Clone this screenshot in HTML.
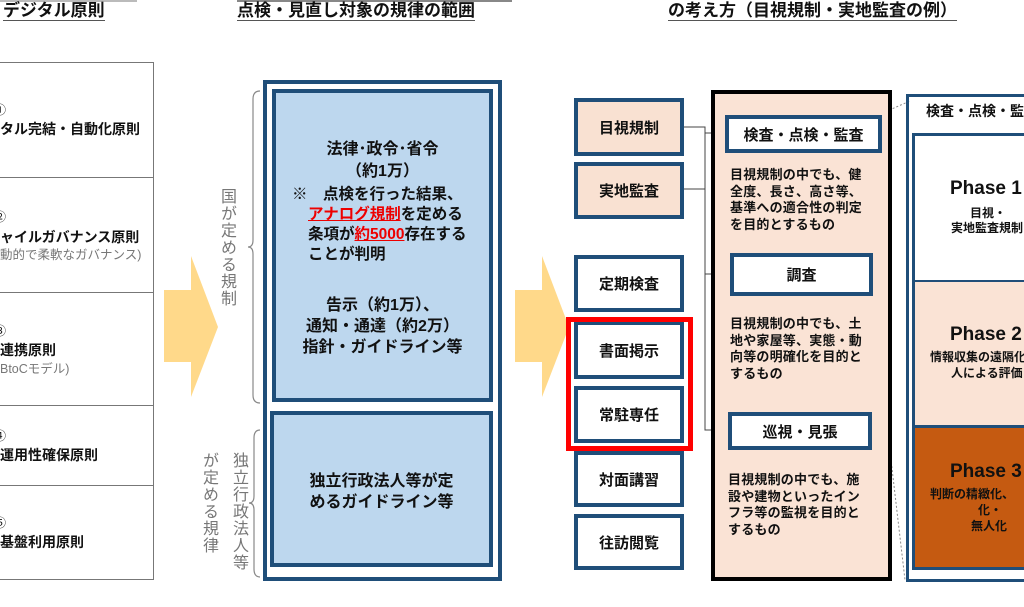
<!DOCTYPE html>
<html><head><meta charset="utf-8"><style>
*{margin:0;padding:0;box-sizing:border-box}
body{width:1024px;height:607px;background:#fff;position:relative;overflow:hidden;font-family:"Liberation Sans","Noto Sans CJK JP",sans-serif;color:#111}
.a{position:absolute}
.t{font-weight:bold;font-size:17px;border-bottom:1.5px solid #555;line-height:19px;white-space:nowrap}
.c{text-align:center;white-space:nowrap}
.bx{position:absolute;border:4px solid #1f4e79;display:flex;align-items:center;justify-content:center;font-weight:bold;font-size:15px;white-space:nowrap}
.p{font-size:13px;line-height:16.5px;font-weight:bold;white-space:nowrap;letter-spacing:0.2px}
.vt{writing-mode:vertical-rl;color:#777;font-size:16px;letter-spacing:1px}
.lt{font-size:14px;font-weight:bold;white-space:nowrap}
</style></head><body>
<div class="a" style="left:0;top:0;width:137px;height:2px;background:#bbb"></div>
<div class="a" style="left:237px;top:0;width:275px;height:2px;background:#888"></div>
<div class="a t" style="left:3px;top:1px">デジタル原則</div>
<div class="a t" style="left:237px;top:1px">点検・見直し対象の規律の範囲</div>
<div class="a t" style="left:668px;top:1px">の考え方（目視規制・実地監査の例）</div>

<!-- left table -->
<div class="a" style="left:-1px;top:62px;width:155px;height:518px;border:1.2px solid #777"></div>
<div class="a" style="left:0;top:177px;width:153px;height:1.2px;background:#777"></div>
<div class="a" style="left:0;top:292px;width:153px;height:1.2px;background:#777"></div>
<div class="a" style="left:0;top:405px;width:153px;height:1.2px;background:#777"></div>
<div class="a" style="left:0;top:485px;width:153px;height:1.2px;background:#777"></div>
<div class="a" style="left:-6px;top:101px;font-size:12px">①</div>
<div class="a lt" style="left:0;top:119px">タル完結・自動化原則</div>
<div class="a" style="left:-6px;top:208px;font-size:12px">②</div>
<div class="a lt" style="left:0;top:227px">ャイルガバナンス原則</div>
<div class="a" style="left:0;top:244px;font-size:12.5px;color:#777;white-space:nowrap">動的で柔軟なガバナンス)</div>
<div class="a" style="left:-6px;top:322px;font-size:12px">③</div>
<div class="a lt" style="left:0;top:340px">連携原則</div>
<div class="a" style="left:0;top:358px;font-size:12.5px;color:#777">BtoCモデル)</div>
<div class="a" style="left:-6px;top:427px;font-size:12px">④</div>
<div class="a lt" style="left:0;top:445px">運用性確保原則</div>
<div class="a" style="left:-6px;top:514px;font-size:12px">⑤</div>
<div class="a lt" style="left:0;top:532px">基盤利用原則</div>

<!-- arrows -->
<svg class="a" style="left:0;top:0" width="1024" height="607">
<polygon points="164,290 191,290 191,256 218,327 191,397 191,362 164,362" fill="#ffd98a"/>
<polygon points="515,290 542,290 542,256 569,327 542,397 542,362 515,362" fill="#ffd98a"/>
<path d="M260,91 Q253,91 253,99 L253,240 Q253,247 248,247 Q253,247 253,254 L253,395 Q253,403 260,403" fill="none" stroke="#888" stroke-width="1.2"/>
<path d="M260,430 Q254,430 254,438 L254,496 Q254,503 249,503 Q254,503 254,510 L254,569 Q254,577 260,577" fill="none" stroke="#888" stroke-width="1.2"/>
<path d="M290,182 Q283,182 283,192 L283,260 Q283,270 293,270 M473,182 Q481,182 481,192 L481,260 Q481,270 471,270" fill="none" stroke="#444" stroke-width="1"/>
<g stroke="#444" stroke-width="1" fill="none">
<path d="M683,127 H705 V430 H728"/><path d="M683,189 H705"/><path d="M705,133 H725"/><path d="M705,274 H730"/>
</g>
<g stroke="#888" stroke-width="1" stroke-dasharray="2,2" fill="none">
<path d="M878,115 L910,101"/><path d="M874,155 L877,340 L905,580"/>
</g>
</svg>
<div class="a vt" style="left:214px;top:188px">国が定める規制</div>
<div class="a vt" style="left:226px;top:452px">独立行政法人等</div>
<div class="a vt" style="left:196px;top:452px">が定める規律</div>

<!-- center outer -->
<div class="a" style="left:263px;top:80px;width:239px;height:501px;border:4px solid #1f4e79"></div>
<div class="a" style="left:272px;top:89px;width:221px;height:313px;border:4px solid #1f4e79;background:#bdd7ee"></div>
<div class="a" style="left:270px;top:411px;width:223px;height:156px;border:4px solid #1f4e79;background:#bdd7ee"></div>
<div class="a c" style="left:272px;width:221px;top:139px;font-size:16px;font-weight:bold;line-height:22px">法律･政令･省令<br>（約1万）</div>
<div class="a" style="left:292px;top:185px;font-size:15.5px;font-weight:bold;line-height:20px;white-space:nowrap">※　点検を行った結果、<br><span style="padding-left:16px"><span style="color:#e00;text-decoration:underline">アナログ規制</span>を定める</span><br><span style="padding-left:16px">条項が<span style="color:#e00;text-decoration:underline">約5000</span>存在する</span><br><span style="padding-left:16px">ことが判明</span></div>
<div class="a c" style="left:272px;width:221px;top:295px;font-size:16px;font-weight:bold;line-height:21px">告示（約1万）、<br>通知・通達（約2万）<br>指針・ガイドライン等</div>
<div class="a c" style="left:270px;width:223px;top:471px;font-size:16px;font-weight:bold;line-height:21px">独立行政法人等が定<br>めるガイドライン等</div>

<!-- left column boxes -->
<div class="bx" style="left:574px;top:98px;width:110px;height:58px;background:#f9e1d2">目視規制</div>
<div class="bx" style="left:574px;top:162px;width:110px;height:57px;background:#f9e1d2">実地監査</div>
<div class="bx" style="left:574px;top:255px;width:110px;height:57px;background:#fff">定期検査</div>
<div class="bx" style="left:574px;top:321px;width:110px;height:58px;background:#fff">書面掲示</div>
<div class="bx" style="left:574px;top:386px;width:110px;height:57px;background:#fff">常駐専任</div>
<div class="bx" style="left:574px;top:451px;width:110px;height:56px;background:#fff">対面講習</div>
<div class="bx" style="left:574px;top:514px;width:110px;height:56px;background:#fff">往訪閲覧</div>
<div class="a" style="left:566px;top:317px;width:127px;height:134px;border:5px solid #f00"></div>

<!-- middle box -->
<div class="a" style="left:711px;top:90px;width:181px;height:491px;border:4px solid #000;background:#fae3d5"></div>
<div class="bx" style="left:725px;top:115px;width:157px;height:38px;background:#fff">検査・点検・監査</div>
<div class="a p" style="left:730px;top:167px">目視規制の中でも、健<br>全度、長さ、高さ等、<br>基準への適合性の判定<br>を目的とするもの</div>
<div class="bx" style="left:730px;top:253px;width:143px;height:43px;background:#fff">調査</div>
<div class="a p" style="left:730px;top:316px">目視規制の中でも、土<br>地や家屋等、実態・動<br>向等の明確化を目的と<br>するもの</div>
<div class="bx" style="left:728px;top:412px;width:144px;height:38px;background:#fff">巡視・見張</div>
<div class="a p" style="left:728px;top:472px">目視規制の中でも、施<br>設や建物といったイン<br>フラ等の監視を目的と<br>するもの</div>

<!-- right box -->
<div class="a" style="left:906px;top:94px;width:130px;height:488px;border:3px solid #1f4e79"></div>
<div class="a" style="left:926px;top:101px;font-size:14px;font-weight:bold;white-space:nowrap">検査・点検・監</div>
<div class="a" style="left:912px;top:133px;width:120px;height:437px;border:3px solid #1f4e79"></div>
<div class="a" style="left:915px;top:136px;width:115px;height:144px;background:#fff"></div>
<div class="a" style="left:915px;top:282px;width:115px;height:143px;background:#fae3d5"></div>
<div class="a" style="left:915px;top:425px;width:115px;height:3px;background:#1f4e79"></div>
<div class="a" style="left:915px;top:280px;width:115px;height:2px;background:#1f4e79"></div>
<div class="a" style="left:915px;top:428px;width:115px;height:139px;background:#c55a11"></div>
<div class="a" style="left:950px;top:178px;font-size:19px;font-weight:bold;white-space:nowrap">Phase 1</div>
<div class="a" style="left:970px;top:204px;font-size:12px;font-weight:bold">目視・</div>
<div class="a" style="left:951px;top:219px;font-size:12px;font-weight:bold;white-space:nowrap">実地監査規制</div>
<div class="a" style="left:950px;top:324px;font-size:19px;font-weight:bold;white-space:nowrap">Phase 2</div>
<div class="a" style="left:930px;top:348px;font-size:12px;font-weight:bold;white-space:nowrap">情報収集の遠隔化</div>
<div class="a" style="left:951px;top:364px;font-size:12px;font-weight:bold;white-space:nowrap">人による評価</div>
<div class="a" style="left:950px;top:461px;font-size:19px;font-weight:bold;white-space:nowrap">Phase 3</div>
<div class="a" style="left:930px;top:485px;font-size:12px;font-weight:bold;white-space:nowrap">判断の精緻化、</div>
<div class="a" style="left:978px;top:501px;font-size:12px;font-weight:bold">化・</div>
<div class="a" style="left:971px;top:517px;font-size:12px;font-weight:bold">無人化</div>
</body></html>
